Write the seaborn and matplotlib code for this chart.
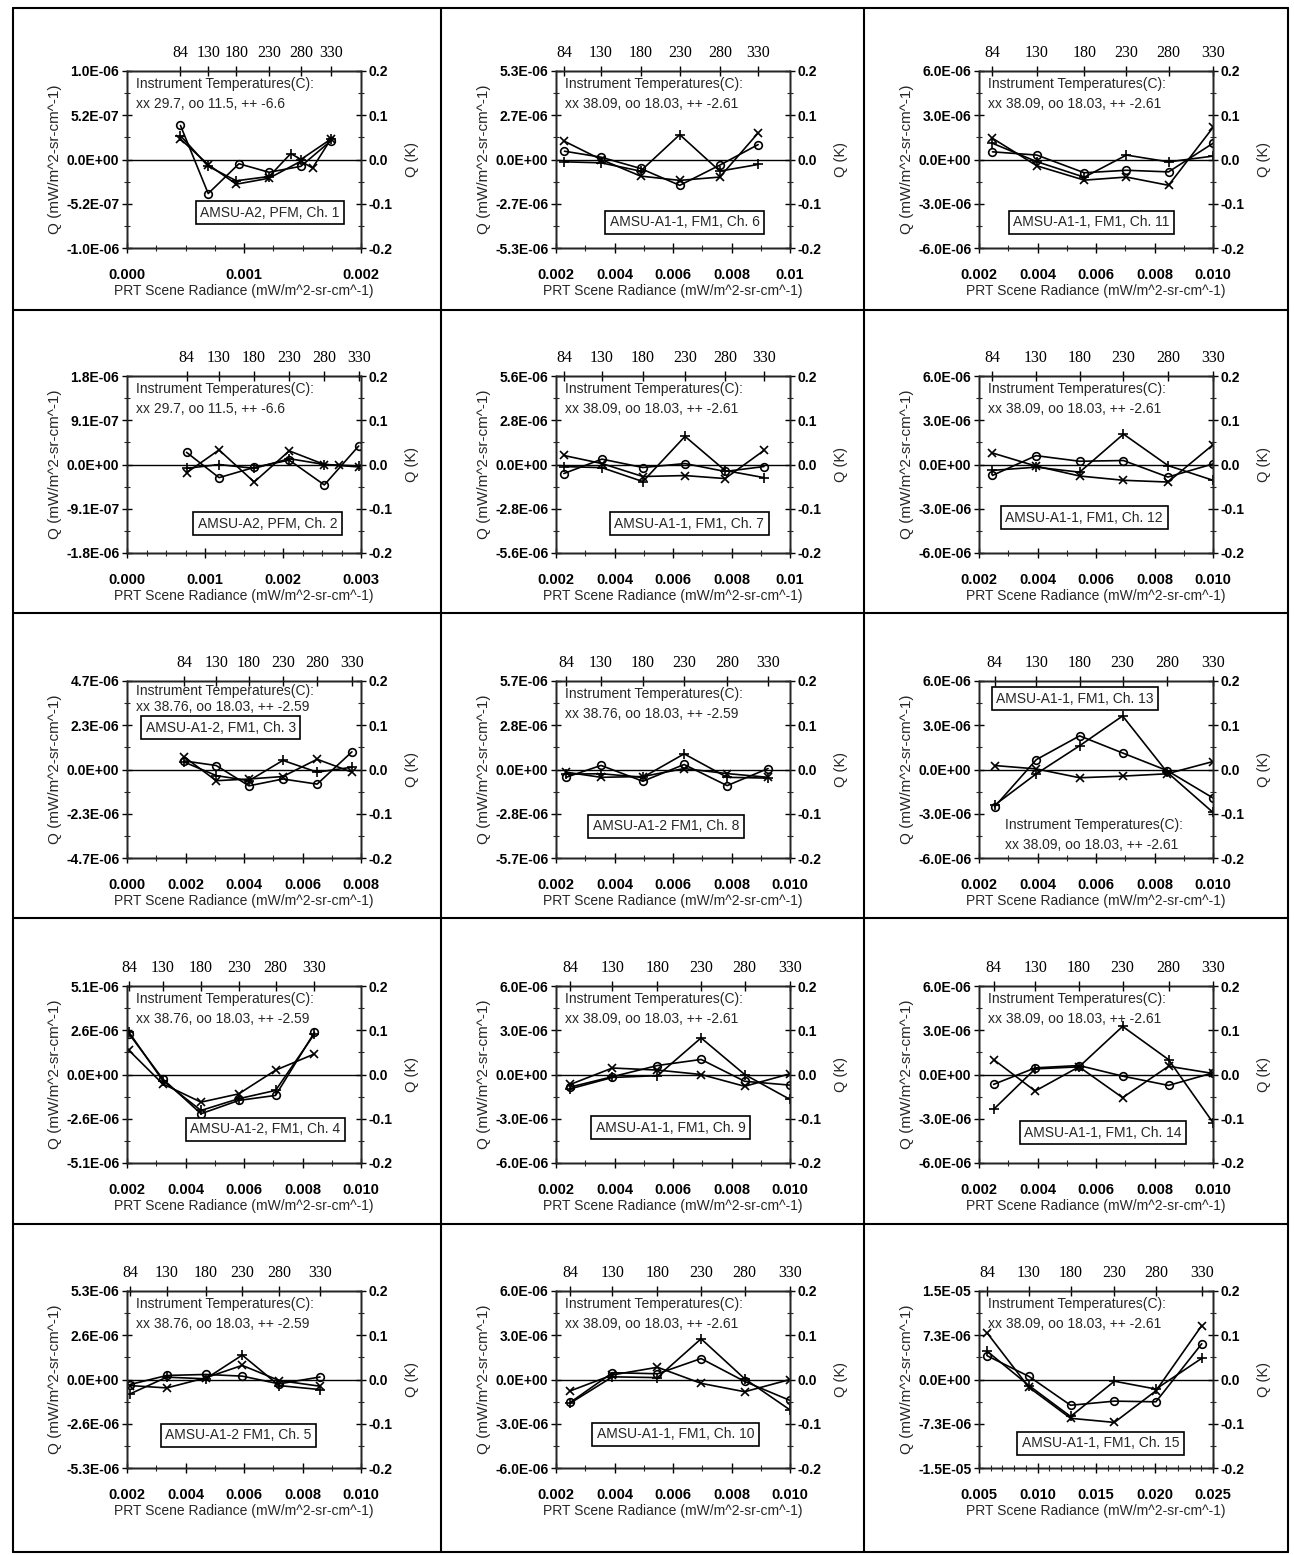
import numpy as np
import pandas as pd
import matplotlib
matplotlib.use("Agg")
import matplotlib.pyplot as plt
from matplotlib.ticker import FixedLocator, FuncFormatter
from matplotlib.lines import Line2D
import seaborn as sns

# ---------------- data (Q values in units of 1E-06 mW/m^2-sr-cm^-1) ----------------
UNIT = 1e-6
TEMPS = [84, 130, 180, 230, 280, 330]

CH1_RAD = [0.000457, 0.000694, 0.000934, 0.001214, 0.001486, 0.001743]
CH1_XX_RAD = [0.000457, 0.000694, 0.000934, 0.001214, 0.001486, 0.001586, 0.001743]
CH1_XX = [0.24, -0.06, -0.29, -0.22, -0.02, -0.10, 0.24]
CH1_OO_RAD = [0.000457, 0.000694, 0.000957, 0.001214, 0.001486, 0.001743]
CH1_OO = [0.40, -0.40, -0.05, -0.15, -0.08, 0.22]
CH1_PP_RAD = [0.000457, 0.000694, 0.000934, 0.001214, 0.001400, 0.001486, 0.001743]
CH1_PP = [0.28, -0.08, -0.25, -0.20, 0.07, 0.00, 0.24]

CH2_RAD = [0.000763, 0.00118, 0.00163, 0.00208, 0.00253, 0.00297]
CH2_XX_RAD = [0.000763, 0.00118, 0.00163, 0.00208, 0.00253, 0.00272, 0.00297]
CH2_XX = [-0.17, 0.30, -0.36, 0.28, 0.00, -0.02, -0.05]
CH2_OO = [0.25, -0.27, -0.06, 0.09, -0.42, 0.38]
CH2_PP = [-0.08, 0.00, -0.08, 0.12, 0.00, -0.03]

CH6_RAD = [0.00229, 0.00354, 0.00489, 0.00623, 0.00760, 0.00891]
CH6_XX = [1.10, 0.00, -1.00, -1.26, -1.06, 1.60]
CH6_OO = [0.50, 0.14, -0.54, -1.56, -0.34, 0.90]
CH6_PP = [-0.14, -0.20, -0.70, 1.50, -0.70, -0.30]

CH7_RAD = [0.00227, 0.00357, 0.00497, 0.00641, 0.00778, 0.00911]
CH7_XX = [0.57, 0.06, -0.76, -0.70, -0.89, 0.89]
CH7_OO = [-0.57, 0.34, -0.19, 0.06, -0.44, -0.13]
CH7_PP = [-0.13, -0.20, -1.08, 1.78, -0.38, -0.83]

CH11_RAD = [0.00246, 0.00398, 0.00560, 0.00704, 0.00848, 0.01000]
CH11_XX = [1.44, -0.43, -1.40, -1.19, -1.75, 2.17]
CH11_OO = [0.52, 0.30, -0.90, -0.73, -0.84, 1.10]
CH11_PP = [1.10, -0.15, -1.20, 0.30, -0.16, 0.23]

CH12_RAD = [0.00246, 0.00395, 0.00544, 0.00694, 0.00846, 0.01000]
CH12_XX = [0.78, -0.11, -0.78, -1.07, -1.19, 1.34]
CH12_OO = [-0.74, 0.60, 0.22, 0.27, -0.85, 0.04]
CH12_PP = [-0.40, -0.18, -0.52, 2.06, -0.07, -1.07]

CH3_RAD = [0.00196, 0.00305, 0.00417, 0.00533, 0.00650, 0.00769]
CH3_XX = [0.66, -0.59, -0.50, -0.37, 0.54, -0.14]
CH3_OO = [0.45, 0.21, -0.86, -0.50, -0.77, 0.93]
CH3_PP = [0.39, -0.32, -0.59, 0.48, -0.14, 0.12]

CH8_RAD = [0.00234, 0.00354, 0.00497, 0.00638, 0.00785, 0.00925]
CH8_XX = [-0.17, -0.50, -0.45, 0.06, -0.26, -0.50]
CH8_OO = [-0.50, 0.26, -0.75, 0.32, -1.03, 0.06]
CH8_PP = [-0.30, -0.27, -0.50, 1.00, -0.50, -0.55]

CH13_RAD = [0.00253, 0.00396, 0.00544, 0.00691, 0.00843, 0.01000]
CH13_XX = [0.27, 0.04, -0.56, -0.45, -0.29, 0.54]
CH13_OO = [-2.53, 0.67, 2.28, 1.12, -0.07, -1.93]
CH13_PP = [-2.42, -0.29, 1.61, 3.63, -0.18, -2.91]

CH4_RAD = [0.00207, 0.00322, 0.00453, 0.00582, 0.00708, 0.00841]
CH4_XX = [1.39, -0.54, -1.60, -1.12, 0.25, 1.19]
CH4_OO = [2.35, -0.25, -2.27, -1.50, -1.21, 2.44]
CH4_PP = [2.44, -0.35, -2.08, -1.40, -0.92, 2.35]

CH9_RAD = [0.00249, 0.00393, 0.00547, 0.00696, 0.00845, 0.01000]
CH9_XX = [-0.67, 0.44, 0.30, 0.00, -0.80, 0.05]
CH9_OO = [-0.85, -0.15, 0.61, 1.02, -0.46, -0.72]
CH9_PP = [-0.97, -0.20, -0.08, 2.48, 0.00, -1.69]

CH14_RAD = [0.00250, 0.00392, 0.00542, 0.00691, 0.00848, 0.01000]
CH14_XX = [1.01, -1.12, 0.52, -1.57, 0.56, 0.07]
CH14_OO = [-0.67, 0.45, 0.61, -0.11, -0.74, 0.11]
CH14_PP = [-2.36, 0.38, 0.52, 3.26, 1.01, -3.26]

CH5_RAD = [0.00210, 0.00336, 0.00469, 0.00594, 0.00720, 0.00860]
CH5_XX = [-0.36, -0.50, 0.10, 0.84, -0.06, -0.40]
CH5_OO = [-0.30, 0.24, 0.30, 0.20, -0.26, 0.15]
CH5_PP = [-0.86, 0.14, 0.04, 1.45, -0.36, -0.60]

CH10_RAD = [0.00249, 0.00393, 0.00547, 0.00696, 0.00845, 0.01000]
CH10_XX = [-0.77, 0.31, 0.83, -0.26, -0.83, 0.00]
CH10_OO = [-1.55, 0.46, 0.39, 1.42, -0.13, -1.42]
CH10_PP = [-1.60, 0.18, 0.13, 2.76, 0.05, -2.06]

CH15_RAD = [0.00571, 0.00927, 0.01283, 0.01657, 0.02012, 0.02404]
CH15_XX = [7.64, -1.30, -6.40, -7.08, -1.87, 8.90]
CH15_OO = [3.90, 0.51, -4.25, -3.57, -3.68, 5.90]
CH15_PP = [4.64, -1.00, -6.10, -0.28, -1.58, 3.50]

# y-axis half ranges (units of 1E-06)
YLIM = {1: 1.04, 2: 1.82, 6: 5.34, 7: 5.6, 11: 6.0, 12: 6.0, 3: 4.66, 8: 5.66,
        13: 6.0, 4: 5.12, 9: 6.0, 14: 6.0, 5: 5.26, 10: 6.0, 15: 14.6}

TEMP_A2 = "Instrument Temperatures(C):\nxx 29.7, oo 11.5, ++ -6.6"
TEMP_A11 = "Instrument Temperatures(C):\nxx 38.09, oo 18.03, ++ -2.61"
TEMP_A12 = "Instrument Temperatures(C):\nxx 38.76, oo 18.03, ++ -2.59"

LABELS = {1: "AMSU-A2, PFM, Ch. 1", 2: "AMSU-A2, PFM, Ch. 2",
          6: "AMSU-A1-1, FM1, Ch. 6", 7: "AMSU-A1-1, FM1, Ch. 7",
          11: "AMSU-A1-1, FM1, Ch. 11", 12: "AMSU-A1-1, FM1, Ch. 12",
          3: "AMSU-A1-2, FM1, Ch. 3", 8: "AMSU-A1-2 FM1, Ch. 8",
          13: "AMSU-A1-1, FM1, Ch. 13", 4: "AMSU-A1-2, FM1, Ch. 4",
          9: "AMSU-A1-1, FM1, Ch. 9", 14: "AMSU-A1-1, FM1, Ch. 14",
          5: "AMSU-A1-2 FM1, Ch. 5", 10: "AMSU-A1-1, FM1, Ch. 10",
          15: "AMSU-A1-1, FM1, Ch. 15"}

# ---------------- layout / style ----------------
sns.set_style("white")
plt.rcParams["font.family"] = ["Liberation Sans", "DejaVu Sans"]
plt.rcParams["axes.linewidth"] = 1.0

FIG_W, FIG_H = 1294, 1555
COL_LEFT = [127, 556, 979]
ROW_TOP = [71, 376, 681, 986, 1291]
AX_W, AX_H = 234, 177

# (channel, row, col, xlim, major, minor, fmt, temp text, text pos, box pos, series, top ticks)
PANELS = [
    (1, 0, 0, (0.0, 0.002), 0.001, 0.00025, "f3", TEMP_A2, (0.04, 0.965), (0.61, 0.20),
     [(CH1_XX_RAD, CH1_XX), (CH1_OO_RAD, CH1_OO), (CH1_PP_RAD, CH1_PP)], CH1_RAD),
    (6, 0, 1, (0.002, 0.010), 0.002, 0.001, "g", TEMP_A11, (0.04, 0.965), (0.55, 0.145),
     [(CH6_RAD, CH6_XX), (CH6_RAD, CH6_OO), (CH6_RAD, CH6_PP)], CH6_RAD),
    (11, 0, 2, (0.002, 0.010), 0.002, 0.001, "f3", TEMP_A11, (0.04, 0.965), (0.48, 0.145),
     [(CH11_RAD, CH11_XX), (CH11_RAD, CH11_OO), (CH11_RAD, CH11_PP)], CH11_RAD),
    (2, 1, 0, (0.0, 0.003), 0.001, 0.00025, "f3", TEMP_A2, (0.04, 0.965), (0.60, 0.165),
     [(CH2_XX_RAD, CH2_XX), (CH2_RAD, CH2_OO), (CH2_RAD, CH2_PP)], CH2_RAD),
    (7, 1, 1, (0.002, 0.010), 0.002, 0.001, "g", TEMP_A11, (0.04, 0.965), (0.57, 0.165),
     [(CH7_RAD, CH7_XX), (CH7_RAD, CH7_OO), (CH7_RAD, CH7_PP)], CH7_RAD),
    (12, 1, 2, (0.002, 0.010), 0.002, 0.001, "f3", TEMP_A11, (0.04, 0.965), (0.45, 0.20),
     [(CH12_RAD, CH12_XX), (CH12_RAD, CH12_OO), (CH12_RAD, CH12_PP)], CH12_RAD),
    (3, 2, 0, (0.0, 0.008), 0.002, 0.001, "f3", TEMP_A12, (0.04, 0.985), (0.40, 0.735),
     [(CH3_RAD, CH3_XX), (CH3_RAD, CH3_OO), (CH3_RAD, CH3_PP)], CH3_RAD),
    (8, 2, 1, (0.002, 0.010), 0.002, 0.001, "f3", TEMP_A12, (0.04, 0.965), (0.47, 0.18),
     [(CH8_RAD, CH8_XX), (CH8_RAD, CH8_OO), (CH8_RAD, CH8_PP)], CH8_RAD),
    (13, 2, 2, (0.002, 0.010), 0.002, 0.001, "f3", TEMP_A11, (0.11, 0.225), (0.41, 0.90),
     [(CH13_RAD, CH13_XX), (CH13_RAD, CH13_OO), (CH13_RAD, CH13_PP)], CH13_RAD),
    (4, 3, 0, (0.002, 0.010), 0.002, 0.001, "f3", TEMP_A12, (0.04, 0.965), (0.59, 0.19),
     [(CH4_RAD, CH4_XX), (CH4_RAD, CH4_OO), (CH4_RAD, CH4_PP)], CH4_RAD),
    (9, 3, 1, (0.002, 0.010), 0.002, 0.001, "f3", TEMP_A11, (0.04, 0.965), (0.49, 0.20),
     [(CH9_RAD, CH9_XX), (CH9_RAD, CH9_OO), (CH9_RAD, CH9_PP)], CH9_RAD),
    (14, 3, 2, (0.002, 0.010), 0.002, 0.001, "f3", TEMP_A11, (0.04, 0.965), (0.53, 0.17),
     [(CH14_RAD, CH14_XX), (CH14_RAD, CH14_OO), (CH14_RAD, CH14_PP)], CH14_RAD),
    (5, 4, 0, (0.002, 0.010), 0.002, 0.001, "f3", TEMP_A12, (0.04, 0.965), (0.475, 0.185),
     [(CH5_RAD, CH5_XX), (CH5_RAD, CH5_OO), (CH5_RAD, CH5_PP)], CH5_RAD),
    (10, 4, 1, (0.002, 0.010), 0.002, 0.001, "f3", TEMP_A11, (0.04, 0.965), (0.51, 0.19),
     [(CH10_RAD, CH10_XX), (CH10_RAD, CH10_OO), (CH10_RAD, CH10_PP)], CH10_RAD),
    (15, 4, 2, (0.005, 0.025), 0.005, 0.001, "f3", TEMP_A11, (0.04, 0.965), (0.52, 0.14),
     [(CH15_RAD, CH15_XX), (CH15_RAD, CH15_OO), (CH15_RAD, CH15_PP)], CH15_RAD),
]
TEXT_LINESPACING = {3: 1.2}

MARKERS = [("x", 6.0, {}), ("o", 5.5, {"markerfacecolor": "none"}), ("+", 7.5, {})]


def qfmt(v, pos):
    if abs(v) < 1e-15:
        return "0.0E+00"
    return f"{v:.1E}"


def kfmt(v, pos):
    if abs(v) < 1e-9:
        return "0.0"
    return f"{v:.1f}"


def f3fmt(v, pos):
    return f"{v:.3f}"


def gfmt(v, pos):
    return f"{round(v, 6):g}"


fig = plt.figure(figsize=(FIG_W / 100, FIG_H / 100), dpi=100)

for (ch, row, col, xlim, major, minor, fmt, ttxt, tpos, bpos, series, rad) in PANELS:
    left = COL_LEFT[col]
    top = ROW_TOP[row]
    ax = fig.add_axes([left / FIG_W, 1 - (top + AX_H) / FIG_H, AX_W / FIG_W, AX_H / FIG_H])
    ax.set_facecolor("none")
    ylim = YLIM[ch] * UNIT
    ax.axhline(0, color="black", lw=1.0, zorder=1)
    for (xs, ys), (mk, ms, extra) in zip(series, MARKERS):
        df = pd.DataFrame({"rad": xs, "q": np.asarray(ys) * UNIT})
        sns.lineplot(data=df, x="rad", y="q", ax=ax, color="black", lw=1.2,
                     marker=mk, markersize=ms, markeredgecolor="black",
                     markeredgewidth=1.2, estimator=None, errorbar=None,
                     sort=False, legend=False, zorder=3, **extra)
    ax.set_xlim(*xlim)
    ax.set_ylim(-ylim, ylim)
    nmaj = int(round((xlim[1] - xlim[0]) / major))
    nmin = int(round((xlim[1] - xlim[0]) / minor))
    ax.xaxis.set_major_locator(FixedLocator(np.linspace(xlim[0], xlim[1], nmaj + 1)))
    ax.xaxis.set_minor_locator(FixedLocator(np.linspace(xlim[0], xlim[1], nmin + 1)))
    ax.xaxis.set_major_formatter(FuncFormatter(f3fmt if fmt == "f3" else gfmt))
    ax.yaxis.set_major_locator(FixedLocator(np.linspace(-ylim, ylim, 5)))
    ax.yaxis.set_minor_locator(FixedLocator(np.linspace(-ylim, ylim, 9)))
    ax.yaxis.set_major_formatter(FuncFormatter(qfmt))
    ax.tick_params(which="major", direction="inout", length=7, width=1.0,
                   labelsize=10, colors="black")
    ax.tick_params(which="minor", direction="inout", length=4, width=0.8)
    ax.tick_params(axis="x", pad=11, labelsize=10.5)
    ax.tick_params(axis="y", pad=2)
    for lab in ax.get_xticklabels() + ax.get_yticklabels():
        lab.set_fontweight("bold")
    ax.set_xlabel("PRT Scene Radiance (mW/m^2-sr-cm^-1)", fontsize=10, labelpad=1)
    ax.set_ylabel("Q (mW/m^2-sr-cm^-1)", fontsize=11, labelpad=3)
    for sp in ax.spines.values():
        sp.set_color("black")
        sp.set_linewidth(1.0)

    # right axis: Q in K
    axr = ax.twinx()
    axr.set_ylim(-0.2, 0.2)
    axr.yaxis.set_major_locator(FixedLocator(np.linspace(-0.2, 0.2, 5)))
    axr.yaxis.set_minor_locator(FixedLocator(np.linspace(-0.2, 0.2, 9)))
    axr.yaxis.set_major_formatter(FuncFormatter(kfmt))
    axr.tick_params(which="major", direction="inout", length=7, width=1.0,
                    labelsize=10, pad=2, colors="black")
    axr.tick_params(which="minor", direction="inout", length=4, width=0.8)
    for lab in axr.get_yticklabels():
        lab.set_fontweight("bold")
    axr.set_ylabel("Q (K)", fontsize=10.5, rotation=90, labelpad=9)
    axr.grid(False)

    # top axis: scene temperatures
    axt = ax.twiny()
    axt.set_xlim(*xlim)
    axt.xaxis.set_major_locator(FixedLocator(rad))
    axt.set_xticklabels([str(t) for t in TEMPS], fontfamily="Liberation Serif",
                        fontsize=11.5)
    axt.tick_params(axis="x", direction="inout", length=7, width=1.0, pad=4,
                    colors="black")
    axt.grid(False)
    ax.grid(False)

    ax.text(tpos[0], tpos[1], ttxt, transform=ax.transAxes, ha="left", va="top",
            fontsize=10, linespacing=TEXT_LINESPACING.get(ch, 1.55), zorder=5)
    ax.text(bpos[0], bpos[1], LABELS[ch], transform=ax.transAxes, ha="center",
            va="center", fontsize=10, zorder=6,
            bbox=dict(boxstyle="square,pad=0.32", fc="white", ec="black", lw=1.2))

# panel frame lines
XB = [13, 441, 864, 1288]
YB = [8, 310, 613, 918, 1224, 1552]
for xb in XB:
    fig.add_artist(Line2D([xb / FIG_W] * 2, [1 - YB[0] / FIG_H, 1 - YB[-1] / FIG_H],
                          transform=fig.transFigure, color="black", lw=1.5))
for yb in YB:
    fig.add_artist(Line2D([XB[0] / FIG_W, XB[-1] / FIG_W], [1 - yb / FIG_H] * 2,
                          transform=fig.transFigure, color="black", lw=1.5))

fig.savefig("out.png", dpi=100, facecolor="white")
